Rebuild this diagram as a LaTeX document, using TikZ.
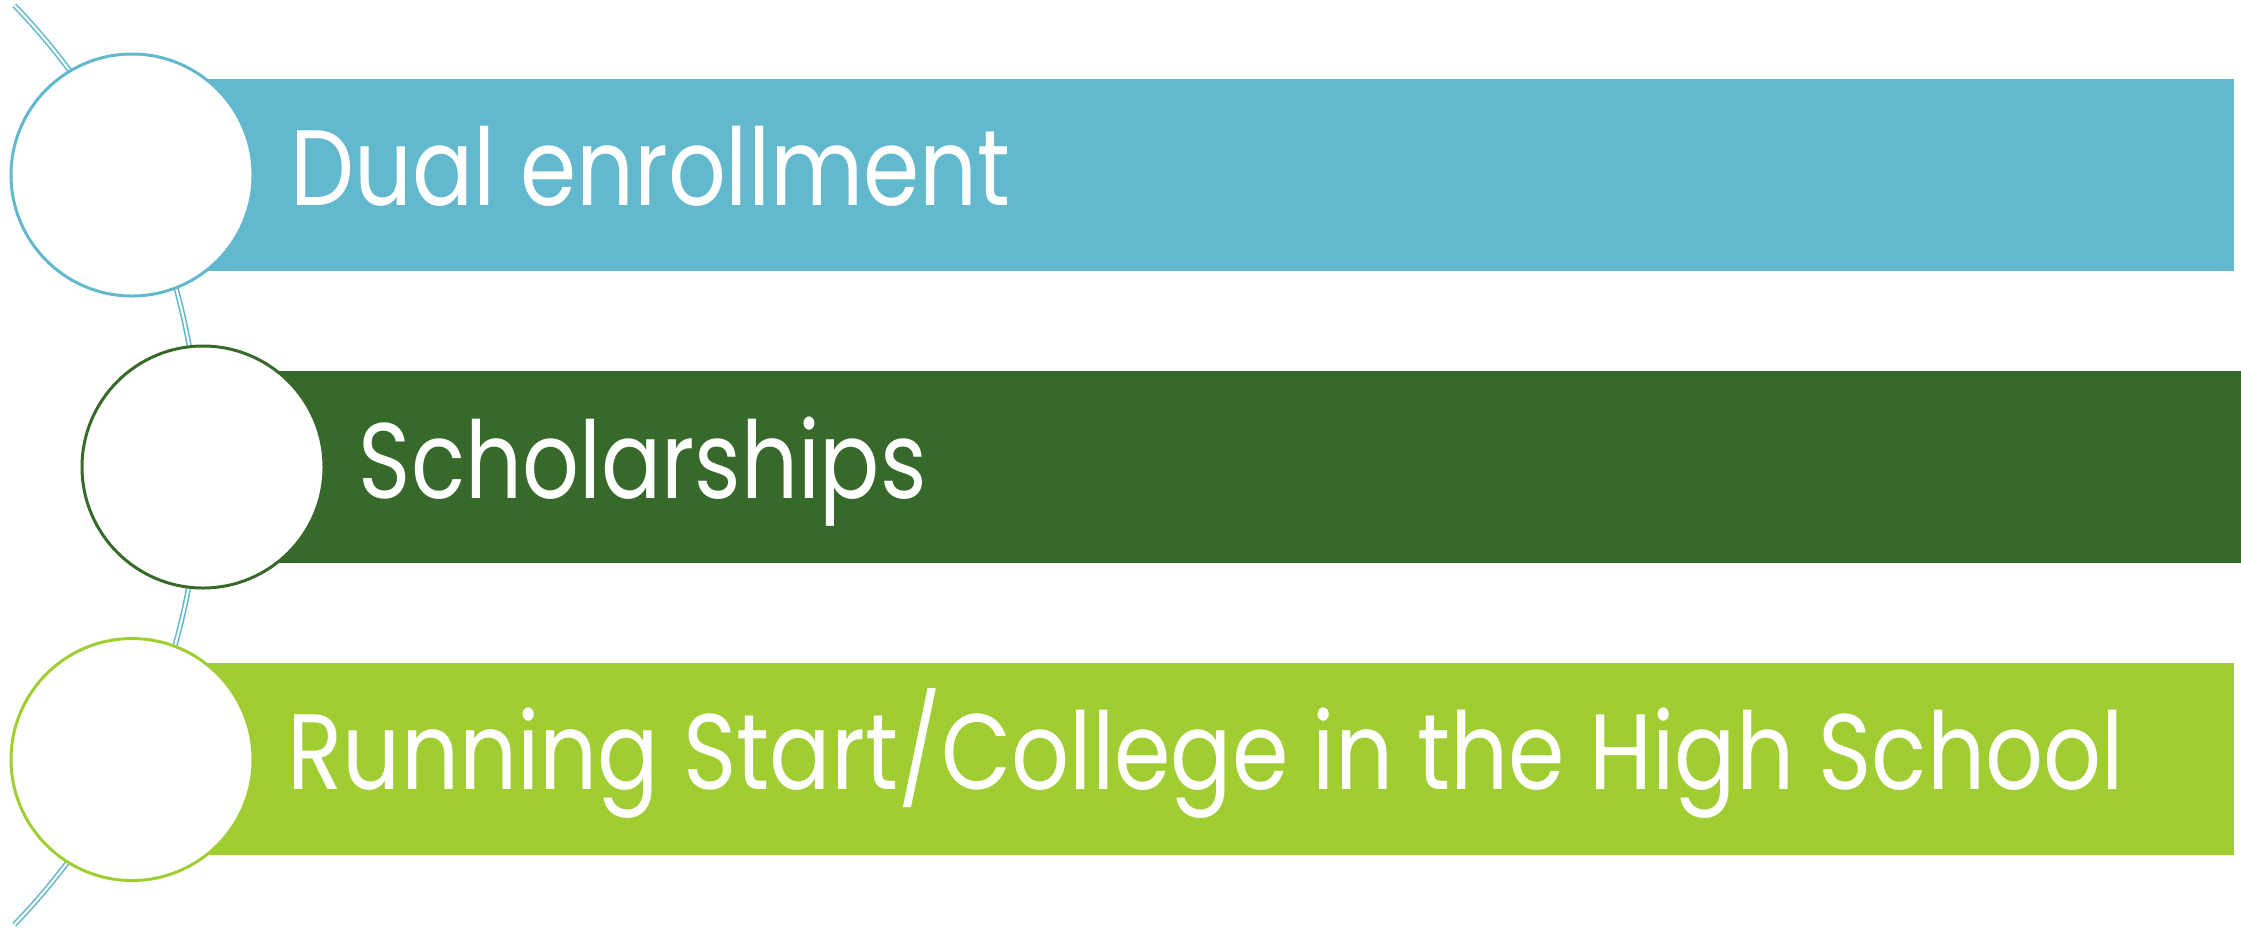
\documentclass[tikz,border=0pt]{standalone}
\usepackage{fontspec}
\setmainfont{Poppins}
\definecolor{cblue}{HTML}{62B8CD}
\definecolor{cgreen}{HTML}{37692A}
\definecolor{clime}{HTML}{A0CD32}
\newcommand{\fitto}[2]{\resizebox{#1}{\height}{#2}}
\begin{document}
\begin{tikzpicture}[
  bar/.style={draw=none, rectangle, anchor=west, inner sep=0pt, minimum width=21.01cm, minimum height=1.92cm},
  disc/.style={circle, fill=white, line width=0.85pt, inner sep=0pt, minimum size=2.42cm},
  label/.style={anchor=base west, inner sep=0pt, text=white, font=\fontsize{30.5}{36}\selectfont}
]
\useasboundingbox (0,0) rectangle (22.41,-9.29);
% bars
\node[bar, fill=cblue]  (b1) at (1.32,-1.75) {};
\node[bar, fill=cgreen] (b2) at (2.03,-4.67) {};
\node[bar, fill=clime]  (b3) at (1.32,-7.585) {};
% arc
\draw[cblue, line width=0.45pt, double=white, double distance=0.6pt]
  (-4.618,-4.65) ++(44:6.618) arc[start angle=44, end angle=-44, radius=6.618];
% circles
\node[disc, draw=cblue]  (c1) at (1.32,-1.75) {};
\node[disc, draw=cgreen] (c2) at (2.03,-4.67) {};
\node[disc, draw=clime]  (c3) at (1.32,-7.595) {};
% texts
\node[label] (t1) at (2.90,-2.05) {\fitto{7.20cm}{Dual enrollment}};
\node[label] (t2) at (3.58,-4.98) {\fitto{5.68cm}{Scholarships}};
\node[label] (t3) at (2.87,-7.89) {\fitto{18.36cm}{Running Start/College in the High School}};
\end{tikzpicture}
\end{document}
